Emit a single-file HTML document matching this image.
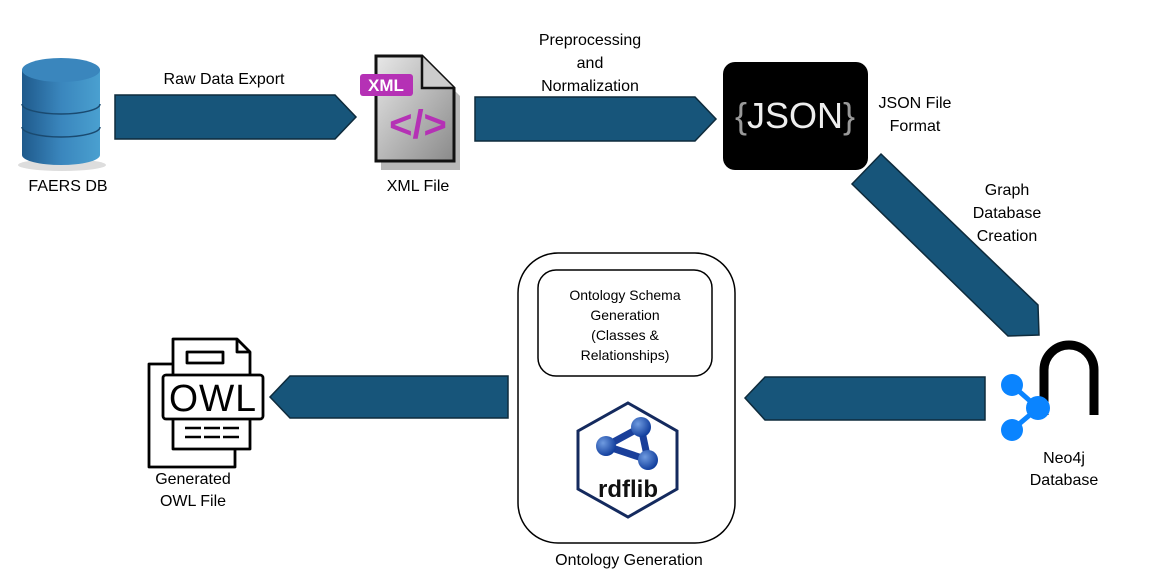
<!DOCTYPE html>
<html><head><meta charset="utf-8"><style>
html,body{margin:0;padding:0;background:#fff;}
svg{display:block;font-family:"Liberation Sans",sans-serif;}
</style></head><body>
<svg width="1150" height="583" viewBox="0 0 1150 583" xmlns="http://www.w3.org/2000/svg">
<defs>
<linearGradient id="cyl" x1="0" x2="1"><stop offset="0" stop-color="#1f5a8c"/><stop offset="0.5" stop-color="#3a86bd"/><stop offset="1" stop-color="#4aa0d0"/></linearGradient>
<linearGradient id="doc" x1="0" x2="1" y1="0" y2="1"><stop offset="0" stop-color="#e8e8e8"/><stop offset="1" stop-color="#8a8a8a"/></linearGradient>
<radialGradient id="ball" cx="0.35" cy="0.35" r="0.7"><stop offset="0" stop-color="#6f9be0"/><stop offset="1" stop-color="#0d3a9a"/></radialGradient>
</defs>
<g fill="#17557a" stroke="#0e2b3c" stroke-width="1.5">
<polygon points="115,95 335,95 356,117 335,139 115,139"/>
<polygon points="475,97 695,97 716,119 695,141 475,141"/>
<polygon points="881,154 1038,305 1039,335 1008,336 852,184"/>
<polygon points="985,377 765,377 745,398 765,420 985,420"/>
<polygon points="508,376 290,376 270,397 290,418 508,418"/>
</g>
<!-- DB -->
<ellipse cx="62" cy="165" rx="44" ry="6" fill="#ddd"/>
<path d="M22,70 v85 a39,10 0 0 0 78,0 v-85 z" fill="url(#cyl)"/>
<ellipse cx="61" cy="70" rx="39" ry="12" fill="#3a86bd"/>
<path d="M22,104 a39,10 0 0 0 78,0 M22,127 a39,10 0 0 0 78,0" fill="none" stroke="#1a4a70" stroke-width="1.5"/>
<text x="68" y="191" font-size="16" text-anchor="middle">FAERS DB</text>
<text x="224" y="84" font-size="16" text-anchor="middle">Raw Data Export</text>
<!-- XML -->
<path d="M381,63 h46 l33,33 v74 h-79 z" fill="#9a9a9a" opacity="0.7"/>
<path d="M376,56 h46 l32,32 v73 h-78 z" fill="url(#doc)" stroke="#111" stroke-width="3"/>
<path d="M422,56 v32 h32" fill="#ccc" stroke="#111" stroke-width="2.5"/>
<rect x="360" y="74" width="53" height="22" rx="3" fill="#b531b5"/>
<text x="386" y="91" font-size="17" font-weight="bold" fill="#fff" text-anchor="middle">XML</text>
<text x="418" y="138" font-size="40" font-weight="bold" fill="#b531b5" text-anchor="middle">&lt;/&gt;</text>
<text x="418" y="191" font-size="16" text-anchor="middle">XML File</text>
<text x="590" y="45" font-size="16" text-anchor="middle">Preprocessing</text>
<text x="590" y="68" font-size="16" text-anchor="middle">and</text>
<text x="590" y="91" font-size="16" text-anchor="middle">Normalization</text>
<!-- JSON -->
<rect x="723" y="62" width="145" height="108" rx="12" fill="#000"/>
<text x="795" y="128" font-size="36" fill="#eee" text-anchor="middle"><tspan fill="#999">{</tspan>JSON<tspan fill="#999">}</tspan></text>
<text x="915" y="108" font-size="16" text-anchor="middle">JSON File</text>
<text x="915" y="131" font-size="16" text-anchor="middle">Format</text>
<text x="1007" y="195" font-size="16" text-anchor="middle">Graph</text>
<text x="1007" y="218" font-size="16" text-anchor="middle">Database</text>
<text x="1007" y="241" font-size="16" text-anchor="middle">Creation</text>
<!-- Neo4j -->
<path d="M1044,415 v-45 a25,25 0 0 1 50,0 v45" fill="none" stroke="#000" stroke-width="9"/>
<g stroke="#0a84ff" stroke-width="5"><line x1="1012" y1="385" x2="1038" y2="408"/><line x1="1012" y1="430" x2="1038" y2="408"/></g>
<g fill="#0a84ff"><circle cx="1012" cy="385" r="11"/><circle cx="1038" cy="408" r="12"/><circle cx="1012" cy="430" r="11"/></g>
<text x="1064" y="463" font-size="16" text-anchor="middle">Neo4j</text>
<text x="1064" y="485" font-size="16" text-anchor="middle">Database</text>
<!-- Ontology box -->
<rect x="518" y="253" width="217" height="290" rx="40" fill="none" stroke="#000" stroke-width="1.5"/>
<rect x="538" y="270" width="174" height="106" rx="18" fill="none" stroke="#000" stroke-width="1.5"/>
<g font-size="14" text-anchor="middle">
<text x="625" y="300">Ontology Schema</text>
<text x="625" y="320">Generation</text>
<text x="625" y="340">(Classes &amp;</text>
<text x="625" y="360">Relationships)</text>
</g>
<polygon points="628,403 677,431 677,489 628,517 578,489 578,431" fill="#fff" stroke="#142a5e" stroke-width="3"/>
<g stroke="#1a3f9a" stroke-width="7"><line x1="606" y1="446" x2="641" y2="427"/><line x1="641" y1="427" x2="648" y2="460"/><line x1="606" y1="446" x2="648" y2="460"/></g>
<circle cx="641" cy="427" r="10" fill="url(#ball)"/><circle cx="606" cy="446" r="10" fill="url(#ball)"/><circle cx="648" cy="460" r="10" fill="url(#ball)"/>
<text x="628" y="497" font-size="24" font-weight="bold" text-anchor="middle" fill="#111">rdflib</text>
<text x="629" y="565" font-size="16" text-anchor="middle">Ontology Generation</text>
<!-- OWL -->
<g fill="#fff" stroke="#000" stroke-width="2.8" stroke-linejoin="round">
<path d="M173,364 h-24 v103 h86 v-18"/>
<path d="M173,339 h64 l13,13 v97 h-77 z"/>
<path d="M237,339 v13 h13" fill="none"/>
<rect x="187" y="352" width="36" height="11"/>
<rect x="163" y="375" width="100" height="44" rx="3"/>
</g>
<path d="M185,428 h54 M185,437 h54" stroke="#000" stroke-width="2.5" stroke-dasharray="16,3"/>
<text x="213" y="411" font-size="38" text-anchor="middle" letter-spacing="1" textLength="88" lengthAdjust="spacingAndGlyphs">OWL</text>
<text x="193" y="484" font-size="16" text-anchor="middle">Generated</text>
<text x="193" y="506" font-size="16" text-anchor="middle">OWL File</text>
</svg>
</body></html>
